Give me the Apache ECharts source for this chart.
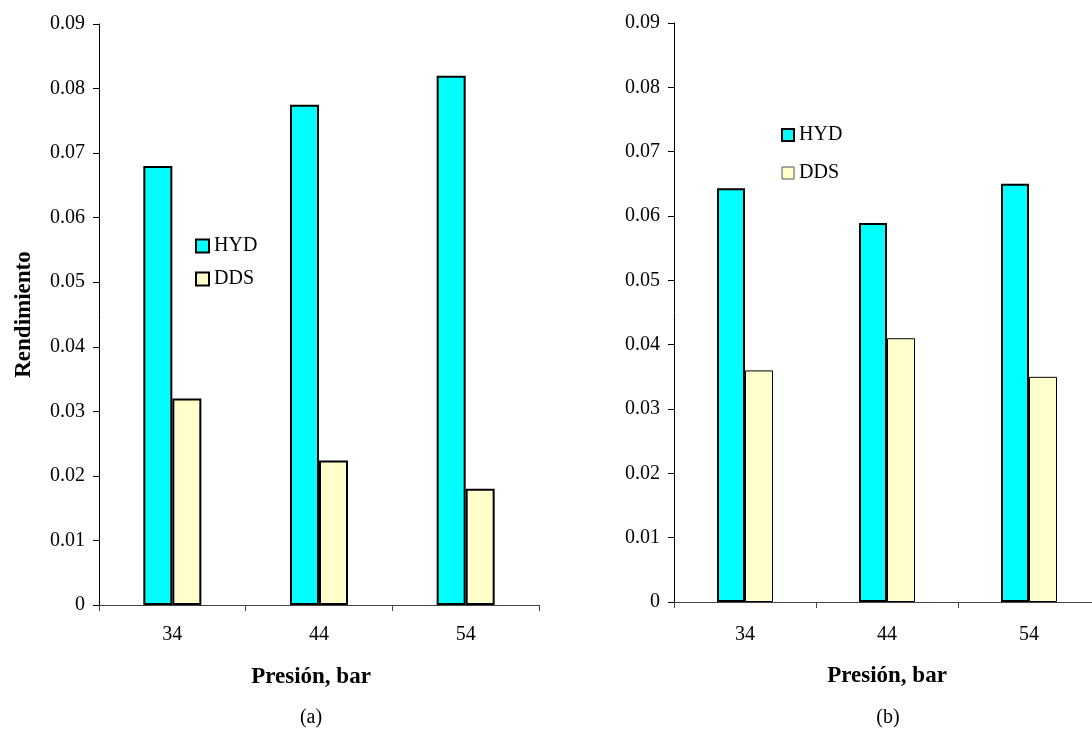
<!DOCTYPE html>
<html>
<head>
<meta charset="utf-8">
<title>Rendimiento vs. presión</title>
<script src="https://cdn.jsdelivr.net/npm/echarts@6/dist/echarts.min.js"></script>
<style>
  html, body { margin: 0; padding: 0; background: #ffffff; }
  #chart { width: 1092px; height: 735px; }
</style>
</head>
<body>
<div id="chart"></div>
<script>
// Pressure categories shared by both panels
const pressures = ['34', '44', '54'];

// Panel (a)
const hydA = [0.068, 0.0775, 0.082];
const ddsA = [0.032, 0.0224, 0.018];

// Panel (b)
const hydB = [0.0643, 0.0589, 0.065];
const ddsB = [0.036, 0.041, 0.035];

const panelLabels = ['(a)', '(b)'];
const seriesNames = ['HYD', 'DDS'];

const FONT = '"Liberation Serif", "Times New Roman", serif';
const CYAN = '#00ffff';
const CREAM = '#ffffcc';

function yAxisFor(gridIndex, withName) {
  return {
    type: 'value',
    gridIndex: gridIndex,
    min: 0,
    max: 0.09,
    interval: 0.01,
    name: withName ? 'Rendimiento' : '',
    nameLocation: 'middle',
    nameGap: 63,
    nameRotate: 90,
    nameTextStyle: { fontFamily: FONT, fontSize: 23, fontWeight: 'bold', color: '#000' },
    axisLine: { show: true, lineStyle: { color: '#000', width: 1 } },
    axisTick: { show: true, length: 6, lineStyle: { color: '#000' } },
    axisLabel: { margin: 14, fontFamily: FONT, fontSize: 20, color: '#000' },
    splitLine: { show: false }
  };
}

function xAxisFor(gridIndex, namePadRight, labelMargin, nameGap) {
  return {
    type: 'category',
    gridIndex: gridIndex,
    data: pressures,
    name: 'Presión, bar',
    nameLocation: 'middle',
    nameGap: nameGap,
    nameTextStyle: {
      fontFamily: FONT, fontSize: 23, fontWeight: 'bold', color: '#000',
      padding: [0, namePadRight, 0, 0]
    },
    axisLine: { show: true, lineStyle: { color: '#444', width: 1 } },
    axisTick: { show: true, length: 6, alignWithLabel: false, lineStyle: { color: '#444' } },
    axisLabel: { margin: labelMargin, fontFamily: FONT, fontSize: 20, color: '#000' },
    splitLine: { show: false }
  };
}

function barSeries(name, data, axisIndex, color, border, width) {
  return {
    name: name,
    type: 'bar',
    xAxisIndex: axisIndex,
    yAxisIndex: axisIndex,
    data: data,
    barWidth: width,
    barGap: '0%',
    itemStyle: { color: color, borderColor: '#000', borderWidth: border },
    emphasis: { disabled: true },
    animation: false
  };
}

const chart = echarts.init(document.getElementById('chart'), null, { renderer: 'canvas' });

chart.setOption({
  backgroundColor: '#ffffff',
  animation: false,
  grid: [
    { left: 99, top: 24, width: 440, height: 581, outerBoundsMode: 'none', containLabel: false },
    { left: 674, top: 23, width: 426, height: 579, outerBoundsMode: 'none', containLabel: false }
  ],
  xAxis: [xAxisFor(0, 16, 20, 61), xAxisFor(1, 0, 23, 63)],
  yAxis: [yAxisFor(0, true), yAxisFor(1, false)],
  legend: [
    {
      orient: 'vertical',
      left: 195,
      top: 236,
      padding: 0,
      itemWidth: 13,
      itemHeight: 13,
      itemGap: 13,
      selectedMode: false,
      textStyle: { fontFamily: FONT, fontSize: 20, color: '#000' },
      data: [
        { name: seriesNames[0], icon: 'rect', itemStyle: { color: CYAN, borderColor: '#000', borderWidth: 2 } },
        { name: seriesNames[1], icon: 'rect', itemStyle: { color: CREAM, borderColor: '#000', borderWidth: 2 } }
      ]
    },
    {
      orient: 'vertical',
      left: 781,
      top: 125,
      padding: 0,
      itemWidth: 12,
      itemHeight: 12,
      itemGap: 18,
      selectedMode: false,
      textStyle: { fontFamily: FONT, fontSize: 20, color: '#000' },
      data: [
        { name: seriesNames[0], icon: 'rect', itemStyle: { color: CYAN, borderColor: '#000', borderWidth: 2 } },
        { name: seriesNames[1], icon: 'rect', itemStyle: { color: CREAM, borderColor: '#555', borderWidth: 1 } }
      ]
    }
  ],
  graphic: [
    { type: 'text', x: 311, y: 718, style: { text: panelLabels[0], fontFamily: FONT, fontSize: 20, fill: '#000', textAlign: 'center', textVerticalAlign: 'middle' } },
    { type: 'text', x: 888, y: 718, style: { text: panelLabels[1], fontFamily: FONT, fontSize: 20, fill: '#000', textAlign: 'center', textVerticalAlign: 'middle' } }
  ],
  series: [
    barSeries(seriesNames[0], hydA, 0, CYAN, 2, 29),
    barSeries(seriesNames[1], ddsA, 0, CREAM, 2, 29),
    barSeries(seriesNames[0], hydB, 1, CYAN, 2, 28),
    barSeries(seriesNames[1], ddsB, 1, CREAM, 1, 28)
  ]
});
</script>
</body>
</html>
